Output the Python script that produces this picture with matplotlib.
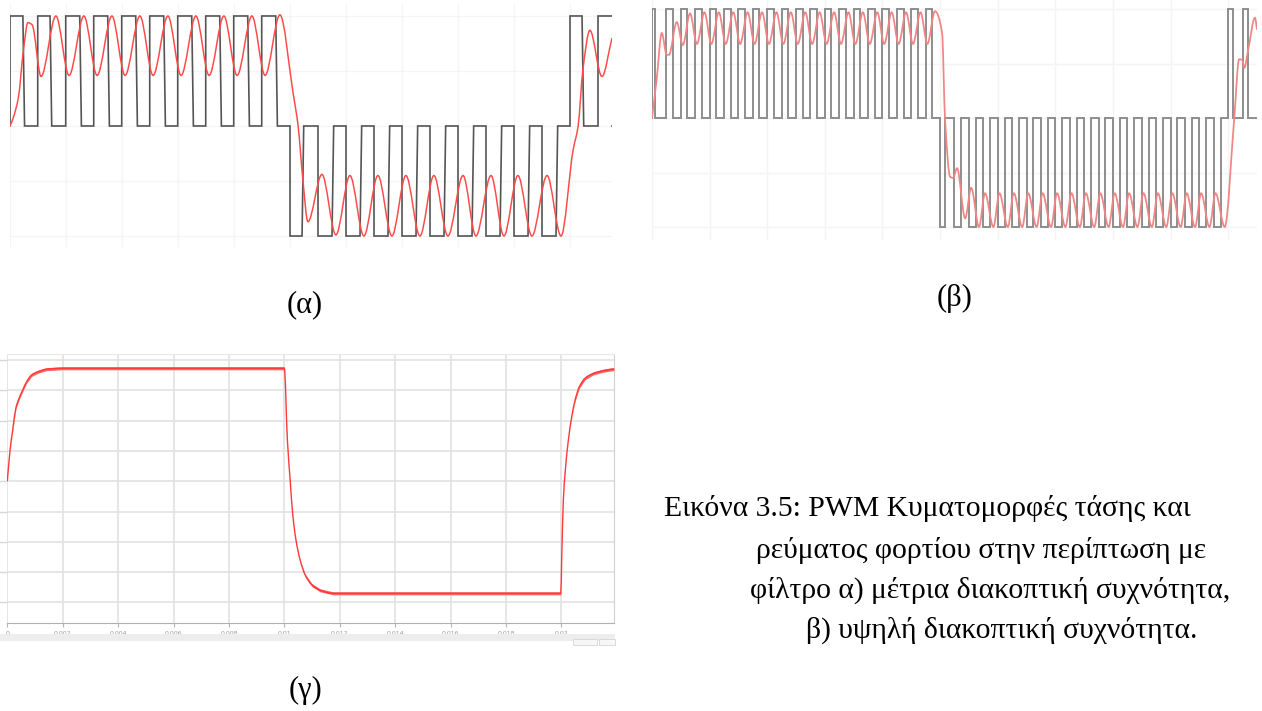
import numpy as np
import matplotlib
matplotlib.use("Agg")
import matplotlib.pyplot as plt
from matplotlib.path import Path
from matplotlib.patches import PathPatch, Rectangle

W, H = 1262, 711

# (α) μέτρια διακοπτική συχνότητα - χρόνοι σε ms, τάση κανονικοποιημένη
alpha_on = [0.00, 0.99, 1.99, 2.99, 3.99, 4.99, 5.99, 6.99, 7.99, 8.99,
            10.00, 11.00, 12.00, 13.00, 14.00, 15.00, 16.00, 17.00, 18.00, 19.00,
            20.00, 21.00]
alpha_off = [0.46, 1.43, 2.49, 3.49, 4.49, 5.49, 6.49, 7.49, 8.49, 9.49,
             10.43, 11.50, 12.50, 13.50, 14.50, 15.50, 16.50, 17.50, 18.50, 19.50,
             20.43, 21.60]
alpha_sign = [1, 1, 1, 1, 1, 1, 1, 1, 1, 1,
              -1, -1, -1, -1, -1, -1, -1, -1, -1, -1,
              1, 1]
alpha_red = [(0.00, 0.00), (0.11, 0.07), (0.30, 0.26), (0.48, 0.69), (0.64, 0.94), (0.79, 0.92),
             (1.11, 0.45), (1.64, 1.00), (2.11, 0.46), (2.64, 1.00), (3.11, 0.46), (3.64, 1.00),
             (4.11, 0.46), (4.64, 1.00), (5.11, 0.46), (5.64, 1.00), (6.11, 0.46), (6.64, 1.00),
             (7.11, 0.46), (7.64, 1.00), (8.11, 0.46), (8.64, 1.00), (9.11, 0.46), (9.64, 1.01),
             (10.11, 0.30), (10.29, 0.00), (10.46, -0.49), (10.64, -0.87), (11.14, -0.44), (11.64, -0.99),
             (12.14, -0.45), (12.64, -1.00), (13.14, -0.45), (13.64, -1.00), (14.14, -0.45), (14.64, -1.00),
             (15.14, -0.45), (15.64, -1.00), (16.18, -0.45), (16.64, -1.00), (17.18, -0.45), (17.64, -1.00),
             (18.14, -0.45), (18.64, -1.00), (19.18, -0.45), (19.68, -1.00), (20.11, -0.22), (20.29, 0.00),
             (20.46, 0.51), (20.71, 0.87), (21.14, 0.45), (21.50, 0.80)]

# (β) υψηλή διακοπτική συχνότητα
beta_on = [0.00, 0.49, 0.99, 1.50, 2.00, 2.50, 3.00, 3.50, 4.00, 4.50,
           5.00, 5.50, 6.00, 6.50, 7.00, 7.50, 8.00, 8.50, 9.00, 9.50,
           10.00, 10.50, 11.00, 11.50, 12.00, 12.50, 13.00, 13.50, 14.00, 14.50,
           15.00, 15.50, 16.00, 16.50, 17.00, 17.50, 18.00, 18.50, 19.00, 19.50,
           20.00, 20.50]
beta_off = [0.10, 0.72, 1.22, 1.73, 2.23, 2.73, 3.23, 3.73, 4.23, 4.73,
            5.23, 5.73, 6.23, 6.73, 7.23, 7.73, 8.23, 8.73, 9.23, 9.73,
            10.17, 10.74, 11.24, 11.74, 12.24, 12.74, 13.24, 13.74, 14.24, 14.74,
            15.24, 15.74, 16.24, 16.74, 17.24, 17.74, 18.24, 18.74, 19.24, 19.74,
            20.18, 20.68]
beta_sign = [1, 1, 1, 1, 1, 1, 1, 1, 1, 1, 1, 1, 1, 1, 1, 1, 1, 1, 1, 1,
             -1, -1, -1, -1, -1, -1, -1, -1, -1, -1, -1, -1, -1, -1, -1, -1, -1, -1, -1, -1,
             1, 1]
beta_red = [(0.00, 0.00), (0.16, 0.35), (0.34, 0.78), (0.51, 0.58), (0.59, 0.58), (0.86, 0.88),
            (1.07, 0.67), (1.32, 0.96), (1.56, 0.68), (1.82, 0.97), (2.06, 0.68), (2.32, 0.97),
            (2.56, 0.68), (2.82, 0.97), (3.06, 0.68), (3.32, 0.97), (3.56, 0.68), (3.82, 0.97),
            (4.06, 0.68), (4.32, 0.97), (4.56, 0.68), (4.82, 0.97), (5.06, 0.68), (5.32, 0.97),
            (5.56, 0.68), (5.82, 0.97), (6.06, 0.68), (6.32, 0.97), (6.56, 0.68), (6.82, 0.97),
            (7.06, 0.68), (7.32, 0.97), (7.56, 0.68), (7.82, 0.97), (8.06, 0.68), (8.32, 0.97),
            (8.56, 0.68), (8.82, 0.97), (9.06, 0.68), (9.32, 0.97), (9.56, 0.68), (9.82, 0.98),
            (10.07, 0.78), (10.17, 0.00), (10.35, -0.54), (10.45, -0.55), (10.59, -0.46), (10.87, -0.92),
            (11.08, -0.64), (11.35, -1.00), (11.56, -0.69), (11.85, -1.00), (12.06, -0.69), (12.35, -1.00),
            (12.56, -0.69), (12.85, -1.00), (13.06, -0.69), (13.35, -1.00), (13.56, -0.69), (13.85, -1.00),
            (14.06, -0.69), (14.35, -1.00), (14.56, -0.69), (14.85, -1.00), (15.06, -0.69), (15.35, -1.00),
            (15.56, -0.69), (15.85, -1.00), (16.06, -0.69), (16.35, -1.00), (16.56, -0.69), (16.85, -1.00),
            (17.06, -0.69), (17.35, -1.00), (17.56, -0.69), (17.85, -1.00), (18.06, -0.69), (18.35, -1.00),
            (18.56, -0.69), (18.85, -1.00), (19.06, -0.69), (19.35, -1.00), (19.56, -0.69), (19.88, -1.00),
            (20.21, 0.00), (20.38, 0.54), (20.49, 0.53), (20.56, 0.46), (20.69, 0.62), (20.93, 0.92),
            (21.00, 0.81)]

# (γ) ρεύμα φορτίου (s, μονάδες πλέγματος)
gamma = [(0.0, 0.00), (0.0001, 1.03), (0.000195, 1.69), (0.00031, 2.42), (0.00043, 2.75),
         (0.00056, 3.02), (0.0007, 3.29), (0.00088, 3.51), (0.00112, 3.62), (0.00142, 3.70),
         (0.002, 3.73), (0.00999, 3.73),
         (0.0100, 3.73), (0.01011, 1.36), (0.01021, 0.04), (0.0103, -1.06), (0.01042, -1.94),
         (0.01057, -2.60), (0.01075, -3.09), (0.01099, -3.42), (0.01129, -3.60), (0.01176, -3.70),
         (0.0125, -3.70), (0.01998, -3.70),
         (0.020014, -2.49), (0.020072, -0.62), (0.020134, 0.26), (0.020253, 1.36), (0.020375, 2.13),
         (0.020495, 2.68), (0.02065, 3.12), (0.020856, 3.40), (0.021155, 3.56), (0.021516, 3.65),
         (0.021877, 3.70), (0.0219, 3.70)]
gamma_ripple = [0, 0, 0.03, 0.04, 0.05, 0.05, 0.05, 0.05, 0.05, 0.05, 0.05, 0.05,
                0, 0, 0, 0, 0, 0, 0.03, 0.05, 0.05, 0.05, 0.05, 0.05,
                0, 0, 0, 0, 0.02, 0.04, 0.05, 0.05, 0.05, 0.05, 0.05, 0.05]
gamma_ticks = [0, 0.002, 0.004, 0.006, 0.008, 0.01, 0.012, 0.014, 0.016, 0.018, 0.02]
gamma_tick_labels = ["0", "0.002", "0.004", "0.006", "0.008", "0.01",
                     "0.012", "0.014", "0.016", "0.018", "0.02"]

caption = ["Εικόνα 3.5: PWM Κυματομορφές τάσης και",
           "ρεύματος φορτίου στην περίπτωση με",
           "φίλτρο α) μέτρια διακοπτική συχνότητα,",
           "β) υψηλή διακοπτική συχνότητα."]
panel_labels = ["(α)", "(β)", "(γ)"]

SERIF = ["Liberation Serif", "DejaVu Serif"]


def px_axes(fig, x0, y0, x1, y1):
    """άξονες σε συντεταγμένες pixel της εικόνας"""
    return fig.add_axes([x0 / W, 1 - y1 / H, (x1 - x0) / W, (y1 - y0) / H])


def pulse_trace(on, off, sign, t_end, slant):
    """κυματομορφή PWM από τις χρονικές στιγμές των παλμών"""
    t, v = [0.0], [0.0]
    for a, b, s in zip(on, off, sign):
        t += [a, a, b, b + slant]
        v += [0, s, s, 0]
    t.append(t_end)
    v.append(0)
    return t, v


def smooth_path(points):
    """ομαλή καμπύλη (μονότονες κυβικές Bezier) από τα σημεία"""
    x = np.array([p[0] for p in points], float)
    y = np.array([p[1] for p in points], float)
    h = np.diff(x)
    d = np.diff(y) / h
    m = np.zeros_like(x)
    m[0], m[-1] = d[0], d[-1]
    for k in range(1, len(x) - 1):
        if d[k - 1] * d[k] > 0:
            w1 = 2 * h[k] + h[k - 1]
            w2 = h[k] + 2 * h[k - 1]
            m[k] = (w1 + w2) / (w1 / d[k - 1] + w2 / d[k])
    verts = [(x[0], y[0])]
    codes = [Path.MOVETO]
    for k in range(len(h)):
        verts += [(x[k] + h[k] / 3, y[k] + m[k] * h[k] / 3),
                  (x[k + 1] - h[k] / 3, y[k + 1] - m[k + 1] * h[k] / 3),
                  (x[k + 1], y[k + 1])]
        codes += [Path.CURVE4] * 3
    return Path(verts, codes)


def pwm_panel(ax, on, off, sign, red, xmax, ylim, grey, red_color, lw, slant, grid_color):
    t, v = pulse_trace(on, off, sign, xmax, slant)
    ax.plot(t, v, color=grey, lw=lw, solid_joinstyle="miter", zorder=2)
    ax.add_patch(PathPatch(smooth_path(red), fill=False, ec=red_color, lw=lw * 0.9, zorder=3))
    ax.set_xlim(0, xmax)
    ax.set_ylim(*ylim)
    ax.set_xticks(np.arange(0, xmax, 2))
    ax.set_yticks([-1, -0.5, 0, 0.5, 1])
    ax.grid(True, color=grid_color, lw=1)
    ax.tick_params(length=0, labelbottom=False, labelleft=False)
    for s in ax.spines.values():
        s.set_visible(False)


fig = plt.figure(figsize=(W / 100, H / 100), dpi=100)

# (α)
ax_a = px_axes(fig, 10, 3, 612, 247)
pwm_panel(ax_a, alpha_on, alpha_off, alpha_sign, alpha_red, 21.5, (-1.10, 1.118),
          "#555555", "#ff4a4a", 1.2, 0.06, "#f5f5f5")

# (β)
ax_b = px_axes(fig, 652, 0, 1257, 240)
pwm_panel(ax_b, beta_on, beta_off, beta_sign, beta_red, 21.0, (-1.119, 1.083),
          "#8e8e8e", "#f08585", 1.4, 0.0, "#f4f4f4")

# (γ)
ax_g = px_axes(fig, 7.3, 354, 614, 623)
gt = [p[0] for p in gamma]
gv = np.array([p[1] for p in gamma])
gr = np.array(gamma_ripple)
ax_g.fill_between(gt, gv - gr, gv + gr, color="#ff6464", lw=0, zorder=3)
ax_g.add_patch(PathPatch(smooth_path(gamma), fill=False, ec="#ff3838", lw=1.0, zorder=4))
ax_g.set_xlim(0, 0.0219)
ax_g.set_ylim(-4.68, 4.2)
ax_g.set_xticks(gamma_ticks)
ax_g.set_xticklabels(gamma_tick_labels)
ax_g.set_yticks(np.arange(-4, 5))
ax_g.grid(True, color="#e2e2e2", lw=1.2)
ax_g.tick_params(axis="x", length=3, width=0.8, color="#b5b5b5", labelsize=4.5,
                 labelcolor="#9a9a9a", pad=3)
ax_g.tick_params(axis="y", length=7, width=1, color="#d8d8d8", labelleft=False)
ax_g.spines["left"].set_visible(False)
ax_g.spines["top"].set_color("#e8e8e8")
ax_g.spines["right"].set_color("#d0d0d0")
ax_g.spines["bottom"].set_color("#b0b0b0")
ax_g.set_facecolor("none")

# λωρίδα κύλισης κάτω από το (γ)
fig.add_artist(Rectangle((0, 1 - 641 / H), 615 / W, 7 / H, transform=fig.transFigure,
                         facecolor="#ededed", edgecolor="none"))
for x0, x1 in [(573, 597), (599, 615)]:
    fig.add_artist(Rectangle((x0 / W, 1 - 645 / H), (x1 - x0) / W, 6 / H,
                             transform=fig.transFigure, facecolor="#f7f7f7",
                             edgecolor="#d5d5d5", lw=0.6))

# ετικέτες
for s, (x, y) in zip(panel_labels, [(305, 305), (955, 298), (306, 690)]):
    fig.text(x / W, 1 - y / H, s, ha="center", va="center", fontsize=22, family=SERIF)

for s, (x, y) in zip(caption, [(927, 508), (981, 550), (990, 590), (1002, 630)]):
    fig.text(x / W, 1 - y / H, s, ha="center", va="center", fontsize=21.3, family=SERIF)

fig.savefig("out.png", dpi=100)
